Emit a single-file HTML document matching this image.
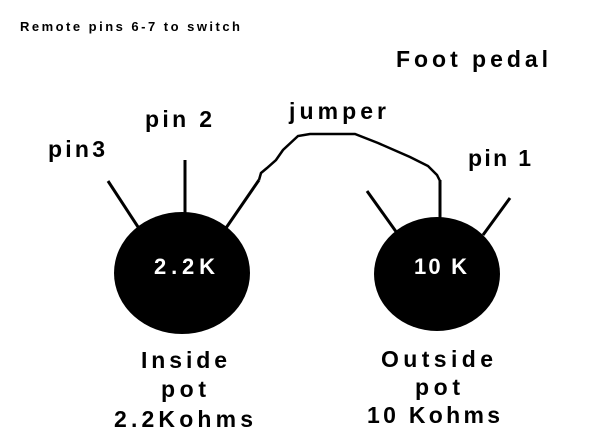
<!DOCTYPE html>
<html><head><style>
html,body{margin:0;padding:0;background:#fff;}
svg{display:block}
text{font-family:"Liberation Sans",sans-serif;font-weight:bold;fill:#000}
</style></head><body>
<svg width="609" height="441" viewBox="0 0 609 441" xmlns="http://www.w3.org/2000/svg">
<text x="20" y="31" font-size="13" textLength="220" lengthAdjust="spacing">Remote pins 6-7 to switch</text>
<text x="396" y="67" font-size="23" textLength="152" lengthAdjust="spacing">Foot pedal</text>
<text x="289" y="119" font-size="23" textLength="97" lengthAdjust="spacing">jumper</text>
<text x="145" y="127" font-size="23" textLength="67" lengthAdjust="spacing">pin 2</text>
<text x="48" y="157" font-size="23" textLength="57" lengthAdjust="spacing">pin3</text>
<text x="468" y="166" font-size="23" textLength="63" lengthAdjust="spacing">pin 1</text>
<g stroke="#000" stroke-width="3" fill="none">
<line x1="108" y1="181" x2="140" y2="230"/>
<line x1="185" y1="160" x2="185" y2="216"/>
<line x1="226" y1="228" x2="259" y2="180"/>
<line x1="367" y1="191" x2="397" y2="233"/>
<line x1="510" y1="198" x2="483" y2="235"/>
<line x1="440" y1="180" x2="440" y2="220"/>
</g>
<path d="M259 180 L261 173 L267 168 L276 160 L283 150 L298 136 L310 134 L355 134 L378 143 L410 157 L428 166 L437 175 L440 181" stroke="#000" stroke-width="2.5" fill="none"/>
<ellipse cx="182" cy="273" rx="68" ry="61" fill="#000"/>
<ellipse cx="437" cy="274" rx="63" ry="57" fill="#000"/>
<text x="154" y="274" font-size="22" textLength="61" lengthAdjust="spacing" style="fill:#fff">2.2K</text>
<text x="414" y="274" font-size="22" textLength="53" lengthAdjust="spacing" style="fill:#fff">10 K</text>
<g font-size="23">
<text x="141" y="368" textLength="86" lengthAdjust="spacing">Inside</text>
<text x="161" y="397" textLength="45" lengthAdjust="spacing">pot</text>
<text x="114" y="427" textLength="139" lengthAdjust="spacing">2.2Kohms</text>
<text x="381" y="367" textLength="112" lengthAdjust="spacing">Outside</text>
<text x="415" y="395" textLength="45" lengthAdjust="spacing">pot</text>
<text x="367" y="423" textLength="133" lengthAdjust="spacing">10 Kohms</text>
</g>
</svg>
</body></html>
